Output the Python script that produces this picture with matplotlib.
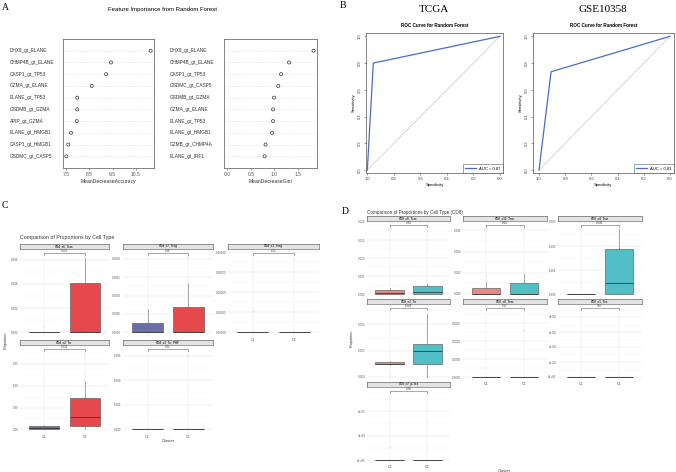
import numpy as np
import matplotlib
matplotlib.use('Agg')
from matplotlib import pyplot as plt

plt.rcParams['font.family'] = ['Liberation Sans', 'DejaVu Sans']

W, H = 676, 472  # canvas in pixels

# ---- panel A: variable importance ----
acc_features = ["DHX9_gt_ELANE", "CHMP4B_gt_ELANE", "CASP1_gt_TP53", "GZMA_gt_ELANE", "ELANE_gt_TP53",
                "GSDMB_gt_GZMA", "APIP_gt_GZMA", "ELANE_gt_HMGB1", "CASP1_gt_HMGB1", "GSDMC_gt_CASP5"]
acc_values = [11.15, 9.43, 9.22, 8.60, 7.97, 7.97, 7.95, 7.70, 7.58, 7.50]
acc_ticks = [7.5, 8.5, 9.5, 10.5]
gini_features = ["DHX9_gt_ELANE", "CHMP4B_gt_ELANE", "CASP1_gt_TP53", "GSDMC_gt_CASP5", "GSDMB_gt_GZMA",
                 "GZMA_gt_ELANE", "ELANE_gt_TP53", "ELANE_gt_HMGB1", "GZMB_gt_CHMP4A", "ELANE_gt_IRF1"]
gini_values = [1.83, 1.31, 1.14, 1.08, 0.99, 0.97, 0.97, 0.95, 0.81, 0.79]
gini_ticks = [0.0, 0.5, 1.0, 1.5]

# ---- panel B: ROC curves ----
tcga_spec = [1.0, 0.955, 0.0]
tcga_sens = [0.0, 0.80, 1.0]
tcga_auc = 0.87
gse_spec = [1.0, 0.908, 0.0]
gse_sens = [0.0, 0.735, 1.0]
gse_auc = 0.81
roc_ticks = [1.0, 0.8, 0.6, 0.4, 0.2, 0.0]

# ---- panel C: CD4 proportions (whislo, q1, med, q3, whishi) ----
cd4_types = ["CD4_c6_Tcm", "CD4_c7_Treg", "CD4_c1_Treg", "CD4_c2_Tn", "CD4_c3_Tn_PHF"]
cd4_p = ["0.056", "0.36", "0.72", "0.031", "0.32"]
cd4_c1 = [[0, 0, 0, 0, 0], [0, 0, 0, 0.00026, 0.00063], [0, 0, 0, 0, 0],
          [0.0, 0.0015, 0.004, 0.008, 0.011], [0, 0, 0, 0, 0]]
cd4_c2 = [[0, 0, 0, 0.0041, 0.0061], [0, 0, 0, 0.00069, 0.00135], [0, 0, 0, 0, 0],
          [0.0, 0.009, 0.029, 0.072, 0.111], [0, 0, 0, 0, 0]]
cd4_c1_out = [[0.0005], [], [0.00027], [], []]
cd4_c2_out = [[0.0065], [0.00205], [0.0009], [0.17], [0.0061]]
cd4_ticks = [["0.000", "0.002", "0.004", "0.006"],
             ["0.0000", "0.0005", "0.0010", "0.0015", "0.0020"],
             ["0.00000", "0.00025", "0.00050", "0.00075", "0.00100"],
             ["0.00", "0.05", "0.10", "0.15"],
             ["0.000", "0.002", "0.004", "0.006"]]

# ---- panel D: CD8 proportions ----
cd8_types = ["CD8_c6_Tcm", "CD8_c12_Trm", "CD8_c4_Tstr", "CD8_c3_Tn", "CD8_c8_Tem", "CD8_c1_Tex", "CD8_c7_p-Tex"]
cd8_p = ["0.34", "0.44", "0.045", "0.049", "0.17", "0.57", "0.38"]
cd8_c1 = [[0, 0, 0.00036, 0.0011, 0.0017], [0, 0, 0, 0.00053, 0.0011], [0, 0, 0, 0, 0],
          [0.0022, 0.0024, 0.0025, 0.0029, 0.0031], [0, 0, 0, 0, 0], [0, 0, 0, 0, 0], [0, 0, 0, 0, 0]]
cd8_c2 = [[0, 0, 0.00045, 0.0022, 0.0028], [0, 0, 0, 0.001, 0.0019], [0, 0, 0.00045, 0.00186, 0.0027],
          [0.0, 0.0024, 0.005, 0.0063, 0.012], [0, 0, 0, 0, 0], [0, 0, 0, 0, 0], [0, 0, 0, 0, 0]]
cd8_c1_out = [[], [0.0018], [0.0005], [0.0006], [], [], [0.00026]]
cd8_c2_out = [[0.0177], [0.0062], [0.00206], [], [0.0013], [], [0.00134]]
cd8_ticks = [["0.000", "0.005", "0.010", "0.015", "0.020"],
             ["0.000", "0.002", "0.004", "0.006"],
             ["0.000", "0.001", "0.002", "0.003"],
             ["0.000", "0.005", "0.010"],
             ["0.0000", "0.0005", "0.0010", "0.0015"],
             ["0e+00", "1e-04", "2e-04", "3e-04", "4e-04"],
             ["0e+00", "5e-04", "1e-03"]]

# layout (pixels, origin top-left)
cd4_rects = [(20, 250, 109, 336), (123, 250, 213, 336), (228, 250, 319, 336),
             (20, 346, 109, 433), (123, 346, 213, 433)]
cd4_ylims = [(-0.0003, 0.0068), (-0.0001, 0.00224), (-0.00005, 0.00103), (-0.008, 0.19), (-0.0003, 0.0068)]
cd4_xlab = [False, False, True, True, True]
cd8_rects = [(367, 222, 450, 297), (463, 222, 547, 297), (558, 222, 642, 297),
             (367, 305, 450, 380), (463, 305, 547, 380), (558, 305, 642, 380),
             (367, 388, 450, 463)]
cd8_ylims = [(-0.0008, 0.0200), (-0.0003, 0.0068), (-0.00012, 0.0030), (-0.0006, 0.0137),
             (-0.00008, 0.0020), (-0.00002, 0.00048), (-0.00006, 0.00147)]
cd8_xlab = [False, False, False, False, True, True, True]

fig = plt.figure(figsize=(W / 100, H / 100), dpi=100)


def px_axes(x0, y0, x1, y1, **kw):
    return fig.add_axes([x0 / W, 1 - y1 / H, (x1 - x0) / W, (y1 - y0) / H], **kw)


def px_text(x, y, s, **kw):
    fig.text(x / W, 1 - y / H, s, **kw)


def dot_panel(rect, features, values, ticks, xlabel, from_zero):
    ax = px_axes(*rect)
    n = len(values)
    ypos = np.arange(n, 0, -1)
    lo = 0 if from_zero else min(values)
    hi = max(values)
    pad = 0.04 * (hi - lo)
    ax.set_xlim(lo - pad, hi + pad)
    ax.set_ylim(0, n + 1)
    ax.hlines(ypos, lo - pad, hi + pad, colors='#d3d3d3', linestyles=':', lw=0.5)
    ax.scatter(values, ypos, s=5, facecolors='none', edgecolors='#333333', lw=0.5, zorder=3)
    tr = ax.get_yaxis_transform()
    for f, y in zip(features, ypos):
        ax.text(-0.588, y, f, transform=tr, ha='left', va='center', fontsize=3.4, color='#333333')
    ax.set_yticks([])
    ax.set_xticks(ticks)
    ax.set_xticklabels([f"{t:.1f}" for t in ticks], fontsize=3.6, color='#333333')
    ax.tick_params(axis='x', length=1.5, width=0.4, pad=1.5, colors='#555555')
    ax.set_xlabel(xlabel, fontsize=3.6, labelpad=1.0, color='#333333')
    for s in ax.spines.values():
        s.set_linewidth(0.5)
        s.set_color('#555555')
    return ax


def roc_panel(rect, spec, sens, auc, xlim, title_y):
    ax = px_axes(*rect)
    ax.plot([1, 0], [0, 1], color='#c8c8c8', lw=0.5)
    ax.plot(spec, sens, color='#4a6cc4', lw=0.9, label=f"AUC = {auc:.2f}")
    ax.set_xlim(*xlim)
    ax.set_ylim(-0.022, 1.025)
    ax.set_xticks(roc_ticks)
    ax.set_xticklabels([f"{t:.1f}" for t in roc_ticks], fontsize=3)
    ax.set_yticks(roc_ticks)
    ax.set_yticklabels([f"{t:.1f}" for t in roc_ticks], fontsize=3, rotation=90, va='center')
    ax.tick_params(length=1.5, width=0.4, pad=1.5, colors='#444444')
    ax.set_xlabel("Specificity", fontsize=3, labelpad=1.5)
    ax.set_ylabel("Sensitivity", fontsize=3, labelpad=1.5)
    ax.set_title("ROC Curve for Random Forest", fontsize=3.3, fontweight='bold', pad=4)
    for s in ax.spines.values():
        s.set_linewidth(0.5)
        s.set_color('#555555')
    leg = ax.legend(loc='lower right', fontsize=3, borderaxespad=0, fancybox=False,
                    handlelength=2.5, borderpad=0.6, handletextpad=0.8)
    leg.get_frame().set_edgecolor('#333333')
    leg.get_frame().set_linewidth(0.4)
    return ax


def box_panel(rect, name, pval, s1, s2, o1, o2, labels, ylim, xlab, colors):
    x0, y0, x1, y1 = rect
    ax = px_axes(x0, y0, x1, y1)
    hpx = y1 - y0
    vals = [float(t) for t in labels]
    ax.set_ylim(*ylim)
    ax.set_xlim(0.4, 2.6)
    for v in vals:
        ax.axhline(v, color='#e3e3e3', lw=0.35, zorder=0)
    step = vals[1] - vals[0]
    for v in vals:
        ax.axhline(v + step / 2, color='#f2f2f2', lw=0.25, zorder=0)
    for xv in (1, 2):
        ax.axvline(xv, color='#e3e3e3', lw=0.35, zorder=0)
    stats = []
    for s, o in ((s1, o1), (s2, o2)):
        stats.append(dict(whislo=s[0], q1=s[1], med=s[2], q3=s[3], whishi=s[4], fliers=o))
    bp = ax.bxp(stats, positions=[1, 2], widths=0.75, patch_artist=True, showcaps=False,
                boxprops=dict(edgecolor='#4d4d4d', linewidth=0.4),
                medianprops=dict(color='#3a3a3a', linewidth=0.6),
                whiskerprops=dict(color='#6a6a6a', linewidth=0.4),
                flierprops=dict(marker='o', markersize=0.8, markerfacecolor='#d0d0d0',
                                markeredgecolor='none'))
    for patch, c in zip(bp['boxes'], colors):
        patch.set_facecolor(c)
    ax.set_yticks(vals)
    ax.set_yticklabels(labels, fontsize=2.2, color='#5a5a5a')
    if xlab:
        ax.set_xticks([1, 2])
        ax.set_xticklabels(["C1", "C2"], fontsize=2.6, color='#5a5a5a')
    else:
        ax.set_xticks([])
    ax.tick_params(length=0, pad=1.2)
    for s in ax.spines.values():
        s.set_visible(False)
    # bracket with p-value
    yb = 1 - 3.4 / hpx
    tr = ax.get_xaxis_transform()
    ax.plot([1, 1, 2, 2], [yb - 1.2 / hpx, yb, yb, yb - 1.2 / hpx], transform=tr,
            color='#666666', lw=0.4, clip_on=False)
    ax.text(1.5, yb + 0.3 / hpx, pval, transform=tr, ha='center', va='bottom', fontsize=2.1,
            color='#333333')
    # strip
    sx = px_axes(x0, y0 - 6.2, x1, y0 - 1.2)
    sx.set_facecolor('#e3e3e3')
    sx.set_xticks([])
    sx.set_yticks([])
    for s in sx.spines.values():
        s.set_linewidth(0.4)
        s.set_color('#4d4d4d')
    sx.text(0.5, 0.5, name, ha='center', va='center', fontsize=2.2, fontweight='bold',
            color='#333333', transform=sx.transAxes)
    return ax


# panel A
px_text(5, 8, "A", fontsize=7, family='Liberation Serif', ha='center', va='center')
px_text(162, 9.5, "Feature Importance from Random Forest", fontsize=4.3, ha='center', va='center')
dot_panel((63, 39, 154, 168), acc_features, acc_values, acc_ticks, "MeanDecreaseAccuracy", False)
dot_panel((224, 39, 317, 168), gini_features, gini_values, gini_ticks, "MeanDecreaseGini", True)

# panel B
px_text(343, 6, "B", fontsize=7, family='Liberation Serif', ha='center', va='center')
px_text(434, 10, "TCGA", fontsize=8, family='Liberation Serif', ha='center', va='center')
px_text(603, 10, "GSE10358", fontsize=8, family='Liberation Serif', ha='center', va='center')
roc_panel((366, 33, 503, 173), tcga_spec, tcga_sens, tcga_auc, (1.01, -0.023), 25)
roc_panel((533, 33, 674, 173), gse_spec, gse_sens, gse_auc, (1.046, -0.031), 27)

# panel C
px_text(5, 205, "C", fontsize=7, family='Liberation Serif', ha='center', va='center')
px_text(20, 237.7, "Comparison of Proportions by Cell Type", fontsize=3.8, ha='left', va='center',
        color='#333333')
for i in range(len(cd4_types)):
    box_panel(cd4_rects[i], cd4_types[i], cd4_p[i], cd4_c1[i], cd4_c2[i], cd4_c1_out[i],
              cd4_c2_out[i], cd4_ticks[i], cd4_ylims[i], cd4_xlab[i], ('#6b6fa6', '#e5494d'))
px_text(6, 340, "Proportion", fontsize=2.8, rotation=90, ha='center', va='center', color='#333333')
px_text(168, 441, "Cluster", fontsize=3.0, ha='center', va='center', color='#333333')

# panel D
px_text(345, 212, "D", fontsize=7, family='Liberation Serif', ha='center', va='center')
px_text(367, 212.3, "Comparison of Proportions by Cell Type (CD8)", fontsize=3.3, ha='left',
        va='center', color='#333333')
for i in range(len(cd8_types)):
    box_panel(cd8_rects[i], cd8_types[i], cd8_p[i], cd8_c1[i], cd8_c2[i], cd8_c1_out[i],
              cd8_c2_out[i], cd8_ticks[i], cd8_ylims[i], cd8_xlab[i], ('#e8897f', '#52bec6'))
px_text(352, 338, "Proportion", fontsize=2.8, rotation=90, ha='center', va='center', color='#333333')
px_text(504, 470.5, "Cluster", fontsize=3.0, ha='center', va='center', color='#333333')

fig.savefig("out.png", dpi=100)
